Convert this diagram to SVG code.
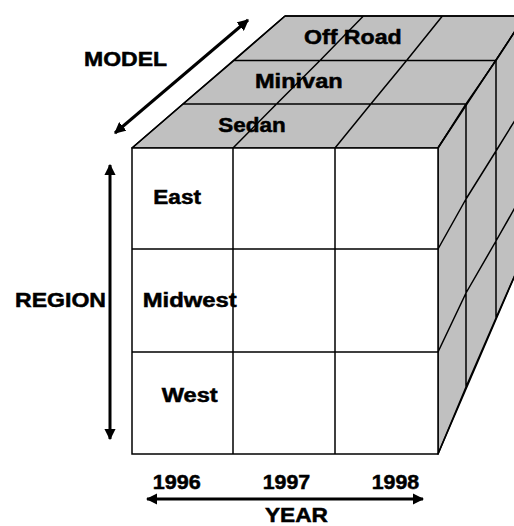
<svg xmlns="http://www.w3.org/2000/svg" width="514" height="526" viewBox="0 0 514 526">
  <defs>
    <style>
      .face-top, .face-side { fill: #c0c0c0; stroke: #000; stroke-width: 1.5; stroke-linejoin: round; }
      .face-front { fill: #fff; stroke: #000; stroke-width: 1.5; }
      .grid { fill: none; stroke: #000; stroke-width: 1.5; stroke-linejoin: round; }
      .axis { fill: none; stroke: #000; stroke-width: 3; }
      .lbl { font-family: "Liberation Sans", Arial, sans-serif; font-weight: bold; font-size: 20px; fill: #000; stroke: #000; stroke-width: 0.5; }
    </style>
    <marker id="ah" viewBox="0 0 10 10" refX="9" refY="5" markerWidth="3.8" markerHeight="3.8" orient="auto-start-reverse" markerUnits="strokeWidth">
      <path d="M0,0 L10,5 L0,10 Z" fill="#000"/>
    </marker>
  </defs>

  <g id="cube">
    <polygon class="face-top" points="132,148 438,148 525,16 285,16"/>
    <polygon class="face-side" points="438,148 525,16 525,252 438,454"/>
    <rect class="face-front" x="132" y="148" width="306" height="306"/>
    <path class="grid" d="M233,148 V454 M335,148 V454 M132,249 H438 M132,352 H438"/>
    <path class="grid" d="M183,104 H466 M234,60.5 H496 M285,16 H525
      M132,148 L183,104 L234,60.5 L285,16
      M233,148 L276.5,104 L320,60.5 L363.4,16
      M335,148 L370.8,104 L406.6,60.5 L442.4,16
      M438,148 L466,104 L496,60.5 L525,16"/>
    <path class="grid" d="M466,104 V387 M496,60.5 V318
      M438,249 L466,199 L496,151 L525,104
      M438,352 L466,293 L496,241 L525,190
      M438,454 L466,387 L496,318 L525,252"/>
  </g>

  <g id="connectors">
    <line class="axis" x1="115" y1="133" x2="248" y2="20" marker-start="url(#ah)" marker-end="url(#ah)"/>
    <line class="axis" x1="110" y1="165" x2="110" y2="439" marker-start="url(#ah)" marker-end="url(#ah)"/>
    <line class="axis" x1="147" y1="499" x2="423" y2="499" marker-start="url(#ah)" marker-end="url(#ah)"/>
  </g>

  <g id="labels">
    <text id="model" class="lbl" x="84" y="65.7" textLength="83" lengthAdjust="spacingAndGlyphs">MODEL</text>
    <text id="region" class="lbl" x="15" y="307.3" textLength="91" lengthAdjust="spacingAndGlyphs">REGION</text>
    <text id="year" class="lbl" x="265" y="522" textLength="63" lengthAdjust="spacingAndGlyphs">YEAR</text>
    <text id="y1996" class="lbl" x="152.7" y="489" textLength="48" lengthAdjust="spacingAndGlyphs">1996</text>
    <text id="y1997" class="lbl" x="262.7" y="489" textLength="47.5" lengthAdjust="spacingAndGlyphs">1997</text>
    <text id="y1998" class="lbl" x="371.7" y="489" textLength="47.5" lengthAdjust="spacingAndGlyphs">1998</text>
    <text id="offroad" class="lbl" x="304" y="44.3" textLength="97.7" lengthAdjust="spacingAndGlyphs">Off Road</text>
    <text id="minivan" class="lbl" x="255" y="88.3" textLength="87.7" lengthAdjust="spacingAndGlyphs">Minivan</text>
    <text id="sedan" class="lbl" x="218.3" y="132.3" textLength="67.3" lengthAdjust="spacingAndGlyphs">Sedan</text>
    <text id="east" class="lbl" x="153.3" y="204.3" textLength="47.7" lengthAdjust="spacingAndGlyphs">East</text>
    <text id="midwest" class="lbl" x="142.7" y="307.3" textLength="94" lengthAdjust="spacingAndGlyphs">Midwest</text>
    <text id="west" class="lbl" x="161.7" y="401.7" textLength="56" lengthAdjust="spacingAndGlyphs">West</text>
  </g>
</svg>
